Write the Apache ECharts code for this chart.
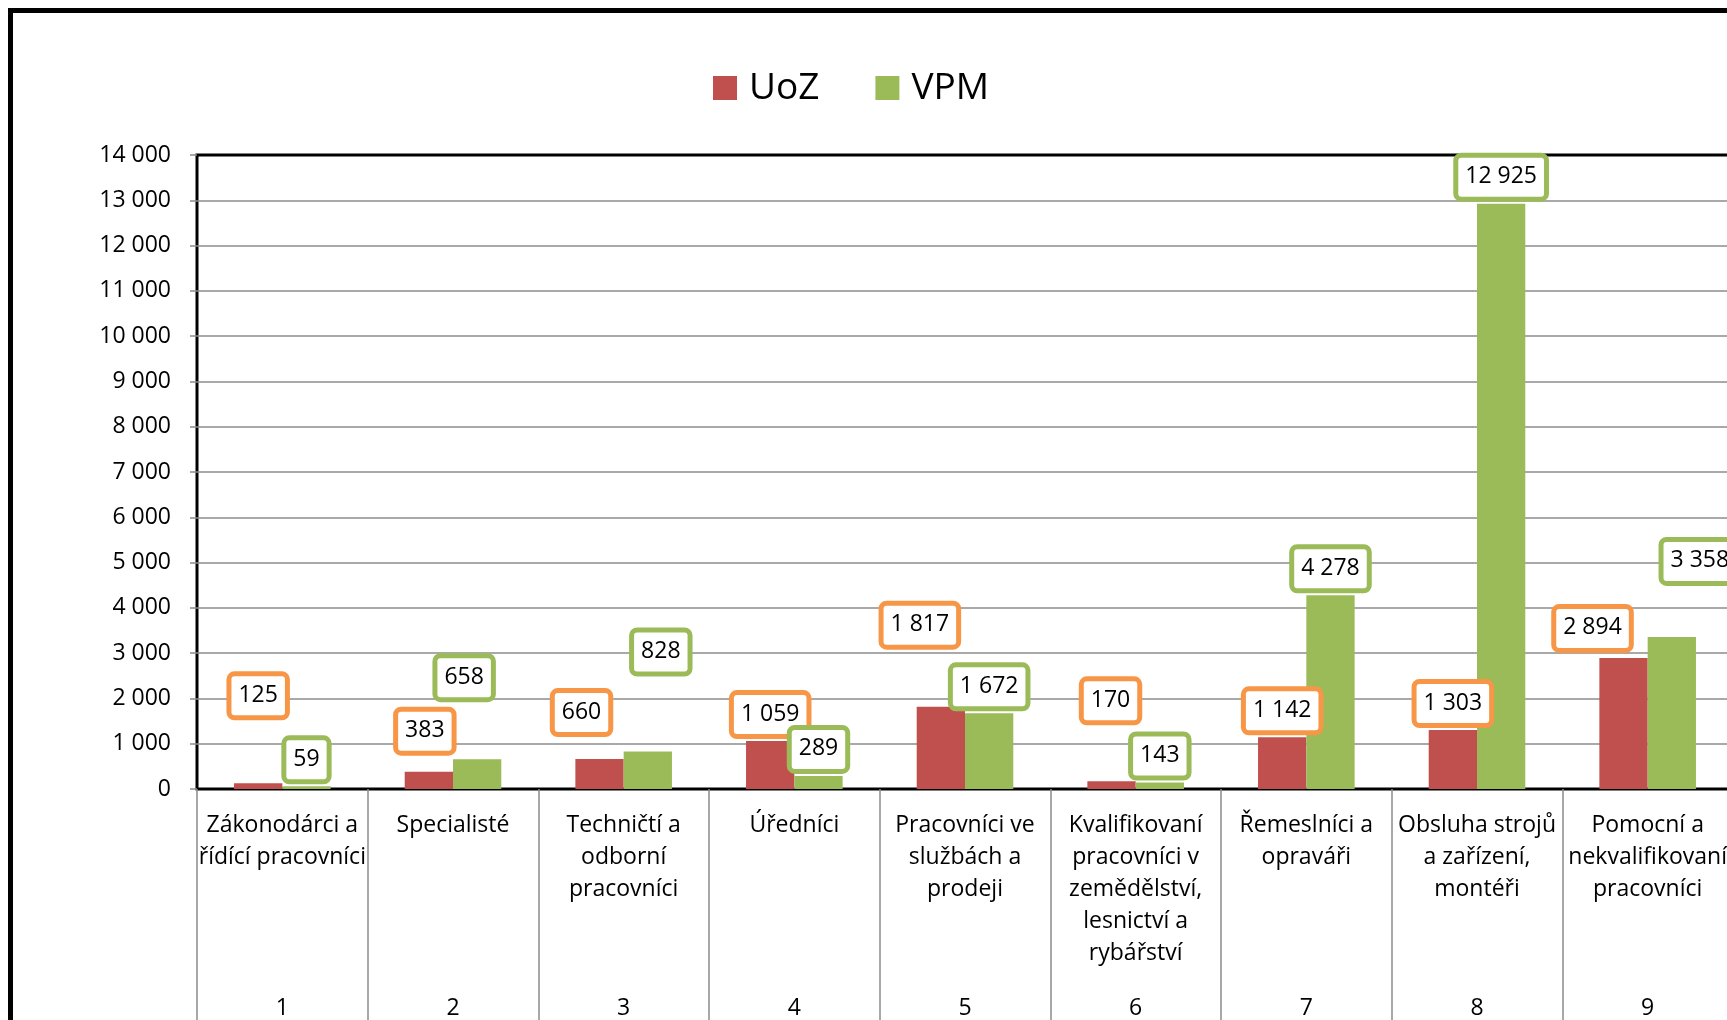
<!DOCTYPE html>
<html>
<head>
<meta charset="utf-8">
<script src="https://cdn.jsdelivr.net/npm/echarts@6/dist/echarts.min.js"></script>
<style>
  html, body { margin: 0; padding: 0; background: #fff; overflow: hidden; }
  #chart { width: 1727px; height: 1020px; }
</style>
</head>
<body>
<div id="chart"></div>
<script>
// skupiny zaměstnání (CZ-ISCO)
const categories = [
  'Zákonodárci a\nřídící pracovníci',
  'Specialisté',
  'Techničtí a\nodborní\npracovníci',
  'Úředníci',
  'Pracovníci ve\nslužbách a\nprodeji',
  'Kvalifikovaní\npracovníci v\nzemědělství,\nlesnictví a\nrybářství',
  'Řemeslníci a\nopraváři',
  'Obsluha strojů\na zařízení,\nmontéři',
  'Pomocní a\nnekvalifikovaní\npracovníci'
];
const categoryCodes = ['1', '2', '3', '4', '5', '6', '7', '8', '9'];

const uozValues = [125, 383, 660, 1059, 1817, 170, 1142, 1303, 2894];
const vpmValues = [59, 658, 828, 289, 1672, 143, 4278, 12925, 3358];

// posun popisků (px) - v originále ručně přesunuté
const uozLabelOffsets = [[0, -61], [-4, -14], [-18, -20], [0, 0], [-21, -55], [-1, -54], [0, 0], [0, 0], [-31, -3]];
const vpmLabelOffsets = [[0, 0], [-13, -55], [13, -73], [0, 0], [0, 0], [0, 0], [0, 0], [0, 0], [28, -49]];

const FONT = 'Open Sans';

function fmt(v) {
  return String(v).replace(/\B(?=(\d{3})+(?!\d))/g, ' ');
}

function boxLabel(color) {
  return {
    show: true,
    position: 'top',
    distance: 7,
    formatter: p => fmt(p.value),
    fontFamily: FONT,
    fontSize: 23,
    lineHeight: 26,
    color: '#000',
    backgroundColor: '#fff',
    borderColor: color,
    borderWidth: 5,
    borderRadius: 3,
    padding: [6, 7, 7, 7]
  };
}

let myChart = echarts.init(document.getElementById('chart'));

myChart.setOption({
  animation: false,
  backgroundColor: '#fff',
  graphic: [{
    type: 'rect',
    z: -10,
    shape: { x: 10.5, y: 10.5, width: 1900, height: 1200 },
    style: { fill: 'none', stroke: '#000', lineWidth: 5 }
  }],
  legend: {
    left: 713,
    top: 68,
    padding: 0,
    itemWidth: 24,
    itemHeight: 24,
    itemGap: 56,
    icon: 'rect',
    textStyle: {
      fontFamily: FONT,
      fontSize: 37,
      lineHeight: 40,
      color: '#000',
      padding: [0, 0, 0, 7]
    },
    data: ['UoZ', 'VPM']
  },
  grid: {
    left: 197,
    top: 155,
    width: 1536,
    height: 634,
    show: true,
    borderColor: '#000',
    borderWidth: 3,
    outerBoundsMode: 'none'
  },
  xAxis: [
    {
      type: 'category',
      data: categories,
      position: 'bottom',
      axisLine: { show: false },
      axisTick: {
        show: true,
        interval: 0,
        length: 240,
        lineStyle: { color: '#8c8c8c', width: 1.5 }
      },
      axisLabel: {
        interval: 0,
        margin: 20,
        fontFamily: FONT,
        fontSize: 23,
        lineHeight: 32,
        color: '#000',
        align: 'center'
      }
    },
    {
      type: 'category',
      data: categoryCodes,
      position: 'bottom',
      axisLine: { show: false },
      axisTick: { show: false },
      axisLabel: {
        interval: 0,
        margin: 203,
        fontFamily: FONT,
        fontSize: 23,
        lineHeight: 32,
        color: '#000'
      }
    }
  ],
  yAxis: {
    type: 'value',
    min: 0,
    max: 14000,
    interval: 1000,
    axisLine: { show: false },
    axisTick: { show: true, length: 7, lineStyle: { color: '#8c8c8c', width: 1.5 } },
    splitLine: {
      showMinLine: false,
      showMaxLine: false,
      lineStyle: { color: '#8c8c8c', width: 1.5 }
    },
    axisLabel: {
      margin: 26,
      fontFamily: FONT,
      fontSize: 23,
      lineHeight: 26,
      color: '#000',
      padding: [2, 0, 0, 0],
      formatter: v => fmt(v)
    }
  },
  series: [
    {
      name: 'UoZ',
      type: 'bar',
      barWidth: 48.3,
      barGap: '0%',
      itemStyle: { color: '#C0504D' },
      label: boxLabel('#F79646'),
      data: uozValues.map((v, i) => ({ value: v, label: { offset: uozLabelOffsets[i] } }))
    },
    {
      name: 'VPM',
      type: 'bar',
      barWidth: 48.3,
      barGap: '0%',
      itemStyle: { color: '#9BBB59' },
      label: boxLabel('#9BBB59'),
      data: vpmValues.map((v, i) => ({ value: v, label: { offset: vpmLabelOffsets[i] } }))
    }
  ]
});
</script>
</body>
</html>
